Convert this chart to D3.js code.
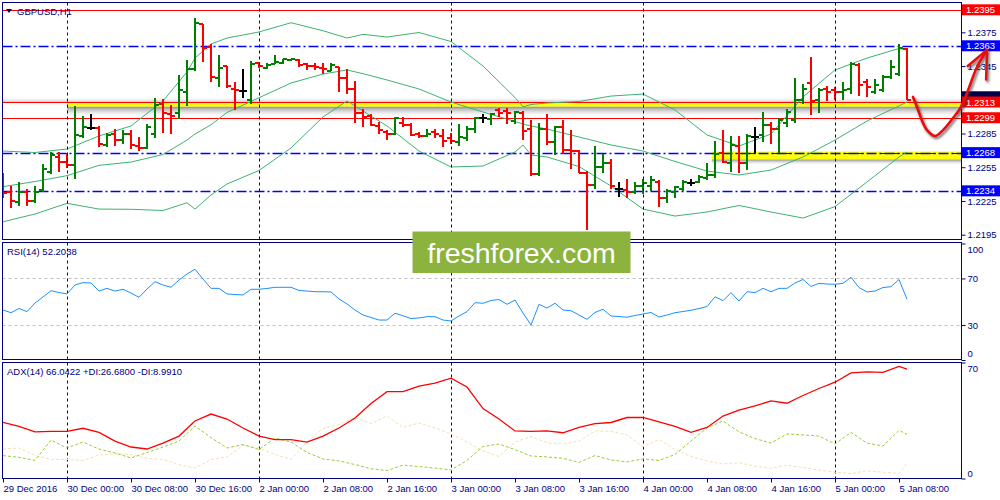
<!DOCTYPE html>
<html><head><meta charset="utf-8">
<script src="https://cdn.jsdelivr.net/npm/d3@7"></script>
<style>
body{margin:0;background:#fff}
svg{display:block}
text{font-family:"Liberation Sans",Arial,sans-serif}
</style>
</head><body>
<svg id="c" width="1000" height="500"></svg>
<script>
// ---------- DATA ----------
const openP = [1.2238,1.2233,1.2224,1.2233,1.2225,1.2235,1.2251,1.2264,1.2260,1.2257,
1.2283,1.2290,1.2290,1.2275,1.2285,1.2279,1.2285,1.2274,1.2272,1.2285,
1.2311,1.2302,1.2303,1.2322,1.2342,1.2382,1.2362,1.2334,1.2345,1.2325,
1.2323,1.2315,1.2348,1.2343,1.2347,1.2348,1.2350,1.2350,1.2347,1.2345,
1.2343,1.2341,1.2344,1.2334,1.2325,1.2303,1.2301,1.2292,1.2286,1.2285,
1.2294,1.2293,1.2285,1.2283,1.2286,1.2283,1.2281,1.2277,1.2281,1.2289,
1.2299,1.2298,1.2306,1.2305,1.2296,1.2303,1.2289,1.2249,1.2289,1.2277,
1.2291,1.2270,1.2269,1.2250,1.2239,1.2255,1.2259,1.2236,1.2235,1.2233,
1.2238,1.2238,1.2242,1.2228,1.2233,1.2236,1.2241,1.2242,1.2245,1.2248,
1.2268,1.2259,1.2274,1.2259,1.2282,1.2284,1.2293,1.2289,1.2294,1.2297,
1.2315,1.2330,1.2315,1.2325,1.2324,1.2322,1.2325,1.2346,1.2331,1.2322,
1.2324,1.2335,1.2338,1.2360];
const highP = [1.2249,1.2238,1.2241,1.2235,1.2238,1.2257,1.2268,1.2268,1.2267,1.2309,
1.2300,1.2302,1.2291,1.2285,1.2289,1.2288,1.2288,1.2281,1.2293,1.2316,
1.2315,1.2310,1.2337,1.2350,1.2387,1.2382,1.2364,1.2354,1.2345,1.2330,
1.2342,1.2349,1.2348,1.2347,1.2354,1.2351,1.2351,1.2351,1.2347,1.2347,
1.2347,1.2347,1.2344,1.2342,1.2331,1.2306,1.2302,1.2295,1.2288,1.2299,
1.2299,1.2294,1.2286,1.2289,1.2289,1.2289,1.2285,1.2293,1.2291,1.2299,
1.2302,1.2303,1.2307,1.2307,1.2305,1.2305,1.2297,1.2294,1.2302,1.2291,
1.2297,1.2288,1.2270,1.2251,1.2273,1.2266,1.2262,1.2241,1.2244,1.2241,
1.2244,1.2247,1.2243,1.2235,1.2238,1.2243,1.2244,1.2248,1.2258,1.2278,
1.2288,1.2282,1.2282,1.2284,1.2290,1.2304,1.2295,1.2298,1.2306,1.2334,
1.2329,1.2353,1.2325,1.2327,1.2326,1.2330,1.2348,1.2347,1.2333,1.2333,
1.2337,1.2350,1.2364,1.2361];
const lowP = [1.2228,1.2219,1.2221,1.2221,1.2224,1.2233,1.2249,1.2251,1.2255,1.2245,
1.2281,1.2289,1.2273,1.2273,1.2274,1.2276,1.2272,1.2270,1.2272,1.2281,
1.2286,1.2285,1.2298,1.2310,1.2341,1.2349,1.2331,1.2327,1.2326,1.2306,
1.2317,1.2312,1.2344,1.2343,1.2347,1.2347,1.2350,1.2345,1.2342,1.2342,
1.2338,1.2341,1.2322,1.2321,1.2295,1.2291,1.2292,1.2285,1.2280,1.2284,
1.2291,1.2283,1.2281,1.2282,1.2281,1.2273,1.2276,1.2274,1.2279,1.2286,
1.2295,1.2293,1.2300,1.2294,1.2294,1.2280,1.2248,1.2248,1.2275,1.2266,
1.2267,1.2254,1.2250,1.2200,1.2236,1.2250,1.2236,1.2229,1.2228,1.2232,
1.2232,1.2234,1.2220,1.2224,1.2228,1.2234,1.2239,1.2241,1.2244,1.2246,
1.2259,1.2251,1.2250,1.2253,1.2268,1.2278,1.2276,1.2268,1.2291,1.2295,
1.2312,1.2302,1.2304,1.2314,1.2315,1.2315,1.2321,1.2319,1.2318,1.2321,
1.2322,1.2334,1.2337,1.2315];
const closeP = [1.2232,1.2225,1.2233,1.2225,1.2233,1.2253,1.2266,1.2260,1.2257,1.2284,
1.2291,1.2290,1.2276,1.2284,1.2279,1.2285,1.2275,1.2272,1.2291,1.2310,
1.2303,1.2301,1.2324,1.2342,1.2383,1.2361,1.2335,1.2343,1.2327,1.2324,
1.2323,1.2347,1.2345,1.2346,1.2349,1.2351,1.2351,1.2346,1.2345,1.2344,
1.2342,1.2346,1.2334,1.2325,1.2303,1.2300,1.2293,1.2288,1.2285,1.2299,
1.2293,1.2284,1.2283,1.2285,1.2285,1.2278,1.2278,1.2282,1.2289,1.2299,
1.2299,1.2302,1.2303,1.2303,1.2304,1.2287,1.2249,1.2289,1.2277,1.2291,
1.2270,1.2269,1.2250,1.2239,1.2255,1.2259,1.2238,1.2236,1.2233,1.2238,
1.2241,1.2244,1.2228,1.2234,1.2237,1.2242,1.2241,1.2246,1.2248,1.2267,
1.2260,1.2275,1.2259,1.2283,1.2282,1.2293,1.2289,1.2297,1.2304,1.2315,
1.2325,1.2314,1.2324,1.2322,1.2322,1.2324,1.2347,1.2328,1.2326,1.2328,
1.2335,1.2344,1.2361,1.2315];

const bbIdx    = [0,4,8,12,16,20,23,24,26,28,32,36,40,43,45,48,52,56,60,64,65,66,68,72,76,80,84,88,92,96,100,104,108,112,113];
const bbUpper  = [1.22694,1.22681,1.22712,1.22828,1.22917,1.23139,1.23397,1.23521,1.23646,1.23699,1.23753,1.23835,1.23764,1.23699,1.23732,1.23708,1.23748,1.23668,1.23450,1.23170,1.23088,1.23108,1.23121,1.23135,1.23183,1.23201,1.23059,1.22837,1.22739,1.22845,1.23175,1.23415,1.23521,1.23606,1.23593];
const bbMiddle = [1.22377,1.22423,1.22475,1.22567,1.22596,1.22663,1.22792,1.22845,1.22928,1.23037,1.23168,1.23299,1.23379,1.23415,1.23382,1.23326,1.23246,1.23130,1.23041,1.22957,1.22934,1.22917,1.22890,1.22819,1.22748,1.22694,1.22601,1.22516,1.22481,1.22525,1.22641,1.22792,1.22961,1.23095,1.23130];
const bbLower  = [1.22065,1.22134,1.22229,1.22178,1.22176,1.22165,1.22234,1.22178,1.22303,1.22401,1.22521,1.22721,1.22997,1.23139,1.23050,1.22917,1.22694,1.22552,1.22561,1.22685,1.22748,1.22659,1.22641,1.22556,1.22383,1.22178,1.22116,1.22152,1.22210,1.22152,1.22098,1.22200,1.22419,1.22641,1.22685];

const rsiVals = [42.9,40.6,44.2,41.5,48.9,54.1,59.5,57.9,56.7,64.4,
66.4,66.1,59.2,61.5,59.2,60.7,57.5,53.8,60.9,67.2,
64.4,62.4,68.7,73.8,77.9,69.5,61.5,61.5,56.7,56.2,
55.8,60.7,60.7,61.4,62.4,62.4,62.4,59.7,59.2,58.6,
58.6,58.4,52.4,48.1,42.9,38.6,36.5,34.3,34.3,40.1,
38.0,35.6,36.1,37.2,37.2,34.3,33.5,37.8,41.5,49.2,
48.7,51.1,51.9,47.8,51.5,40.3,30.0,47.8,44.6,48.7,
42.9,42.3,38.6,34.9,40.8,43.5,37.8,37.3,36.7,38.2,
39.5,40.8,36.9,38.6,40.6,41.6,42.7,44.2,45.8,54.3,
50.9,57.8,50.6,58.6,57.8,61.5,58.6,61.5,61.5,66.1,
69.1,63.1,65.8,65.2,65.0,65.8,71.0,62.2,58.4,59.2,
62.2,62.9,69.1,52.2];

const adxIdx = [0,2,4,6,8,10,12,14,16,18,20,22,24,26,28,30,32,34,36,38,40,42,44,46,48,50,52,54,56,58,60,62,64,66,68,70,72,74,76,78,80,82,84,86,88,90,92,94,96,98,100,102,104,106,108,110,112,113];
const adxVals = [33.8,31.4,28.1,28.4,28.4,30.3,27.8,22.6,19.0,17.8,21.4,25.6,34.7,38.9,35.9,30.5,25.6,23.5,23.5,22.0,25.6,30.5,36.5,45.3,52.4,52.4,55.8,57.6,60.5,55.2,42.2,35.9,28.7,28.4,28.7,27.6,30.8,33.1,33.8,36.8,36.9,34.1,31.4,27.8,30.8,37.7,41.3,43.8,46.8,45.4,50.1,54.3,58.1,63.7,64.3,64.1,67.6,66.0];
const plusDI  = [13.8,12.8,10.9,23.2,18.4,22.0,17.8,15.4,12.4,15.6,19.0,22.6,31.7,24.7,18.4,20.5,17.5,24.4,22.0,15.7,11.8,10.6,8.4,5.9,4.8,8.1,7.2,6.3,5.1,10.9,19.3,20.8,17.4,13.6,13.0,12.2,9.7,13.9,11.2,10.0,11.8,10.9,14.5,22.6,30.5,34.7,28.1,24.1,21.4,26.9,26.3,25.6,20.8,27.8,21.4,19.6,29.0,26.7];
const minusDI = [17.8,18.4,13.9,11.5,11.5,10.9,14.2,14.8,14.5,12.2,11.5,8.3,6.3,11.5,13.0,20.0,18.4,14.5,11.5,22.0,30.2,32.6,36.8,33.2,37.7,30.8,33.5,30.5,26.9,22.0,16.6,13.3,22.0,25.3,21.6,20.8,22.6,28.7,28.4,26.3,19.2,23.5,17.5,13.3,10.6,8.8,9.5,7.4,6.2,8.0,6.6,5.1,3.8,3.0,4.6,3.8,3.1,9.0];

const timeLabels = ["29 Dec 2016","30 Dec 00:00","30 Dec 08:00","30 Dec 16:00","2 Jan 00:00","2 Jan 08:00","2 Jan 16:00","3 Jan 00:00","3 Jan 08:00","3 Jan 16:00","4 Jan 00:00","4 Jan 08:00","4 Jan 16:00","5 Jan 00:00","5 Jan 08:00"];
const timeIdx = [0,8,16,24,32,40,48,56,64,72,80,88,96,104,112];
const dayIdx = [8,32,56,80,104];

const priceTicks = [1.2375,1.2345,1.2285,1.2255,1.2225,1.2195];
const redLevels = [1.2395,1.2313,1.2299];
const blueLevels = [1.2363,1.2268,1.2234];
const bidPrice = 1.2315;
const rsiTicks = [100,70,30,0];
const rsiLevels = [70,30];
const adxTicks = [70,0];
const zoneStart = [8, 88.6];
const zoneTop = [1.2313, 1.2269];
const zoneBottom = [1.2309, 1.2262];
// hand-drawn forecast arrow (bar index, price)
const arrowIdx = [113.75,114.25,115,115.5,116.5,117.5,118.75,119.6,120.5,121.75,123];
const arrowPrice = [1.23175,1.23086,1.22943,1.2288,1.22828,1.2288,1.22988,1.23068,1.2321,1.23441,1.23593];
const headIdx = [120.6,123,122.9];
const headPrice = [1.2345,1.23593,1.23330];

// ---------- LAYOUT ----------
const L = 2.5, R = 961.5;
const P = {main:[2.5,239.5], rsi:[242.5,359.5], adx:[362.5,478.5]};
const NAVY = "#000080";

const x  = d3.scaleLinear().domain([0,113]).range([3,907]);
const yP = d3.scaleLinear().domain([1.2195,1.2375]).range([234.7,32.3]);
const yR = d3.scaleLinear().domain([0,100]).range([360,243.5]);
const yA = d3.scaleLinear().domain([0,70]).range([478.5,362.5]);

const svg = d3.select("#c");
const defs = svg.append("defs");
Object.entries(P).forEach(([k,[t,b]]) => {
  defs.append("clipPath").attr("id","clip-"+k).append("rect")
    .attr("x",L).attr("y",t).attr("width",R-L).attr("height",b-t);
});
const g1 = defs.append("linearGradient").attr("id","shadowDown").attr("x1",0).attr("y1",0).attr("x2",0).attr("y2",1);
g1.append("stop").attr("offset","0%").attr("stop-color","#8a8a8a");
g1.append("stop").attr("offset","100%").attr("stop-color","#ffffff").attr("stop-opacity",0);
const g2 = defs.append("linearGradient").attr("id","shadowUp").attr("x1",0).attr("y1",1).attr("x2",0).attr("y2",0);
g2.append("stop").attr("offset","0%").attr("stop-color","#c8c8c8");
g2.append("stop").attr("offset","100%").attr("stop-color","#ffffff").attr("stop-opacity",0);
const f = defs.append("filter").attr("id","arrShadow").attr("x","-20%").attr("y","-20%").attr("width","140%").attr("height","140%");
f.append("feDropShadow").attr("dx",1.5).attr("dy",2).attr("stdDeviation",1.2).attr("flood-color","#333").attr("flood-opacity",0.7);

svg.append("rect").attr("width",1000).attr("height",500).attr("fill","#fff");

// ---------- MAIN PANEL ----------
const gm = svg.append("g").attr("clip-path","url(#clip-main)");
// support zones
zoneStart.forEach((s,i) => {
  const yt = yP(zoneTop[i]), yb = yP(zoneBottom[i]);
  if (i === 0) {
    gm.append("rect").attr("x",L).attr("y",yt-5).attr("width",R-L).attr("height",5).attr("fill","url(#shadowUp)");
  }
  gm.append("rect").attr("x",x(s)).attr("y",yb).attr("width",R-x(s)).attr("height",i===0?11:6).attr("fill","url(#shadowDown)");
  gm.append("rect").attr("x",x(s)).attr("y",yt).attr("width",R-x(s)).attr("height",yb-yt).attr("fill","#ffff00");
});
// day separators
["main","rsi","adx"].forEach(k => {
  svg.append("g").selectAll("line").data(dayIdx).join("line")
    .attr("x1",d=>Math.round(x(d))+0.5).attr("x2",d=>Math.round(x(d))+0.5)
    .attr("y1",P[k][0]).attr("y2",P[k][1])
    .attr("stroke",NAVY).attr("stroke-width",1).attr("stroke-dasharray","3,3");
});
// horizontal levels
gm.selectAll(".rl").data(redLevels).join("line")
  .attr("x1",L).attr("x2",R).attr("y1",d=>Math.round(yP(d))+0.5).attr("y2",d=>Math.round(yP(d))+0.5)
  .attr("stroke","#ff0000").attr("stroke-width",1);
gm.selectAll(".bl").data(blueLevels).join("line")
  .attr("x1",L).attr("x2",R).attr("y1",d=>Math.round(yP(d))+0.5).attr("y2",d=>Math.round(yP(d))+0.5)
  .attr("stroke","#0000ff").attr("stroke-width",1.3).attr("stroke-dasharray","10,3,2,3");
// dark dashes on second zone
gm.append("line").attr("x1",x(zoneStart[1])).attr("x2",R)
  .attr("y1",Math.round(yP(1.2268))+0.5).attr("y2",Math.round(yP(1.2268))+0.5)
  .attr("stroke","#202020").attr("stroke-dasharray","8,4");

// Bollinger bands
[bbUpper,bbMiddle,bbLower].forEach(arr => {
  gm.append("path").datum(bbIdx.map((d,i)=>[d,arr[i]]))
    .attr("d",d3.line().x(d=>x(d[0])).y(d=>yP(d[1])))
    .attr("fill","none").attr("stroke","#3cb371").attr("stroke-width",1);
});

// OHLC bars
const bars = d3.range(openP.length).map(i => ({i,o:openP[i],h:highP[i],l:lowP[i],c:closeP[i]}));
const col = d => d.c > d.o ? "#008000" : (d.c < d.o ? "#ff0000" : "#000000");
const bg = gm.append("g").attr("shape-rendering","crispEdges");
bg.selectAll(".hl").data(bars).join("line")
  .attr("x1",d=>x(d.i)).attr("x2",d=>x(d.i)).attr("y1",d=>yP(d.h)-0.5).attr("y2",d=>yP(d.l)+0.5)
  .attr("stroke",col).attr("stroke-width",2);
bg.selectAll(".op").data(bars).join("line")
  .attr("x1",d=>x(d.i)-4).attr("x2",d=>x(d.i)).attr("y1",d=>yP(d.o)).attr("y2",d=>yP(d.o))
  .attr("stroke",col).attr("stroke-width",2);
bg.selectAll(".cl").data(bars).join("line")
  .attr("x1",d=>x(d.i)).attr("x2",d=>x(d.i)+4).attr("y1",d=>yP(d.c)).attr("y2",d=>yP(d.c))
  .attr("stroke",col).attr("stroke-width",2);

// title
svg.append("path").attr("d","M6,9 L12,9 L9,13 Z").attr("fill",NAVY);
svg.append("text").attr("x",17).attr("y",15).attr("font-size",9.5).attr("fill",NAVY).text("GBPUSD,H1");

// ---------- RSI PANEL ----------
const gr = svg.append("g").attr("clip-path","url(#clip-rsi)");
gr.selectAll("line").data(rsiLevels).join("line")
  .attr("x1",L).attr("x2",R).attr("y1",d=>Math.round(yR(d))+0.5).attr("y2",d=>Math.round(yR(d))+0.5)
  .attr("stroke","#c0c0c0").attr("stroke-dasharray","3,3");
gr.append("path").datum(rsiVals)
  .attr("d",d3.line().x((d,i)=>x(i)).y(d=>yR(d)))
  .attr("fill","none").attr("stroke","#1e90ff").attr("stroke-width",1);
svg.append("text").attr("x",7).attr("y",255).attr("font-size",9.5).attr("fill",NAVY).text("RSI(14) 52.2038");

// ---------- ADX PANEL ----------
const ga = svg.append("g").attr("clip-path","url(#clip-adx)");
const la = d3.line().x((d,i)=>x(adxIdx[i])).y(d=>yA(d));
ga.append("path").datum(minusDI).attr("d",la).attr("fill","none").attr("stroke","#f5deb3").attr("stroke-width",1).attr("stroke-dasharray","3,2");
ga.append("path").datum(plusDI).attr("d",la).attr("fill","none").attr("stroke","#9acd32").attr("stroke-width",1).attr("stroke-dasharray","3,2");
ga.append("path").datum(adxVals).attr("d",la).attr("fill","none").attr("stroke","#ff0000").attr("stroke-width",1.3);
svg.append("text").attr("x",7).attr("y",375).attr("font-size",9.5).attr("fill",NAVY).text("ADX(14) 66.0422 +DI:26.6800 -DI:8.9910");

// ---------- FRAMES ----------
Object.values(P).forEach(([t,b]) => {
  svg.append("rect").attr("x",L).attr("y",t).attr("width",R-L).attr("height",b-t)
    .attr("fill","none").attr("stroke",NAVY).attr("stroke-width",1);
});

// ---------- AXES ----------
const axP = svg.append("g").attr("transform",`translate(${R},0)`)
  .call(d3.axisRight(yP).tickValues(priceTicks).tickSize(4).tickPadding(2).tickFormat(d3.format(".4f")));
const axR = svg.append("g").attr("transform",`translate(${R},0)`)
  .call(d3.axisRight(yR).tickValues(rsiTicks).tickSize(4).tickPadding(2));
const axA = svg.append("g").attr("transform",`translate(${R},0)`)
  .call(d3.axisRight(yA).tickValues(adxTicks).tickSize(4).tickPadding(2));
const axT = svg.append("g").attr("transform",`translate(0,${P.adx[1]})`)
  .call(d3.axisBottom(x).tickValues(timeIdx).tickSize(4).tickPadding(3).tickFormat((d,i)=>timeLabels[i]));
[axP,axR,axA,axT].forEach(a => {
  a.select(".domain").remove();
  a.selectAll("line").attr("stroke",NAVY);
  a.selectAll("text").attr("fill",NAVY).attr("font-size",9.5).attr("font-family","Liberation Sans, Arial, sans-serif");
});
axT.selectAll("text").attr("text-anchor","start").attr("dx",0);
axR.selectAll(".tick text").attr("dy", d => d===100 ? "0.95em" : (d===0 ? "-0.35em" : "0.32em"));
axA.selectAll(".tick text").attr("dy", d => d===70 ? "0.9em" : (d===0 ? "-0.2em" : "0.32em"));

// ---------- PRICE LABEL BOXES ----------
const bx = svg.append("g");
// current bid marker, mostly hidden behind the 1.2313 label
bx.append("rect").attr("x",R+0.5).attr("y",yP(bidPrice)-8.5).attr("width",40).attr("height",11).attr("fill","#00004a");
const boxes = redLevels.map(p=>({p,c:"#ff0000"})).concat(blueLevels.map(p=>({p,c:"#0000ff"})));
boxes.forEach(b => {
  const yy = yP(b.p);
  bx.append("rect").attr("x",R+0.5).attr("y",yy-5.5).attr("width",40).attr("height",11).attr("fill",b.c);
  bx.append("text").attr("x",R+4.5).attr("y",yy+3.5).attr("font-size",9.5).attr("fill","#fff").text(d3.format(".4f")(b.p));
});

// ---------- LOGO ----------
svg.append("rect").attr("x",412.5).attr("y",231.5).attr("width",218).attr("height",41.5).attr("fill","#8cb33e");
svg.append("text").attr("x",521.5).attr("y",263).attr("text-anchor","middle")
  .attr("font-family","'Open Sans', sans-serif").attr("font-size",28.5).attr("fill","#fff").text("freshforex.com");

// ---------- HAND-DRAWN ARROW ----------
const ga2 = svg.append("g").attr("filter","url(#arrShadow)");
ga2.append("path").datum(arrowIdx.map((d,i)=>[d,arrowPrice[i]]))
  .attr("d",d3.line().x(d=>x(d[0])).y(d=>yP(d[1])).curve(d3.curveCatmullRom))
  .attr("fill","none").attr("stroke","#e81010").attr("stroke-width",2.6).attr("stroke-linecap","round");
ga2.append("path").datum(headIdx.map((d,i)=>[d,headPrice[i]]))
  .attr("d",d3.line().x(d=>x(d[0])).y(d=>yP(d[1])))
  .attr("fill","none").attr("stroke","#e81010").attr("stroke-width",2.6).attr("stroke-linecap","round").attr("stroke-linejoin","round");
</script>
</body></html>
